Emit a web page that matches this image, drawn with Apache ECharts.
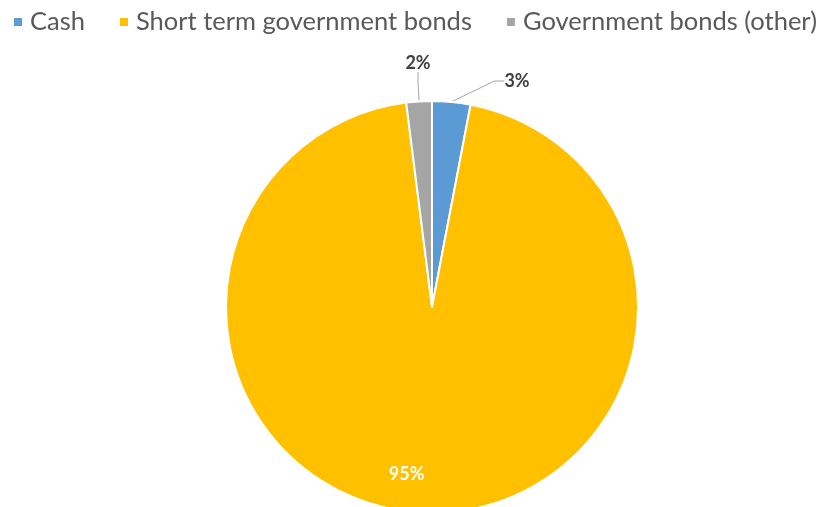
<!DOCTYPE html>
<html><head><meta charset="utf-8">
<style>html,body{margin:0;padding:0;background:#fff}#c{width:821px;height:507px}</style>
<script src="https://cdn.jsdelivr.net/npm/echarts@6/dist/echarts.min.js"></script>
</head><body><div id="c"></div>
<script>
const categories = ['Cash', 'Short term government bonds', 'Government bonds (other)'];
const values = [3, 95, 2];
const colors = ['#5B9BD5', '#FFC000', '#A5A5A5'];

const chart = echarts.init(document.getElementById('c'));
chart.setOption({
  animation: false,
  legend: {
    left: 12, top: 9, width: 1000, padding: 0,
    itemWidth: 10, itemHeight: 10, itemGap: 33,
    icon: 'rect',
    textStyle: { fontFamily: 'Lato', fontSize: 25.5, color: '#595959', padding: [0,0,0,2] },
    data: categories
  },
  series: [{
    type: 'pie',
    center: [432, 307],
    radius: 206,
    startAngle: 90,
    clockwise: true,
    itemStyle: { borderColor: '#fff', borderWidth: 2 },
    label: { show: true, formatter: '{d}%', fontFamily: 'Lato', fontWeight: 'bold', fontSize: 18, color: '#404040' },
    labelLine: { lineStyle: { color: '#A6A6A6', width: 1 }, length: 15, length2: 10 },
    labelLayout: function (p) {
      if (p.dataIndex === 1) return { dx: -22, dy: 61 };
      if (p.dataIndex === 0) return { x: 517, y: 81, align: 'center', verticalAlign: 'middle' };
      if (p.dataIndex === 2) return { x: 418, y: 63, align: 'center', verticalAlign: 'middle' };
      return {};
    },
    data: categories.map((n, i) => {
      const d = { name: n, value: values[i], itemStyle: { color: colors[i] } };
      if (i === 1) d.label = { position: 'inside', color: '#fff' };
      return d;
    })
  }]
});
</script></body></html>
